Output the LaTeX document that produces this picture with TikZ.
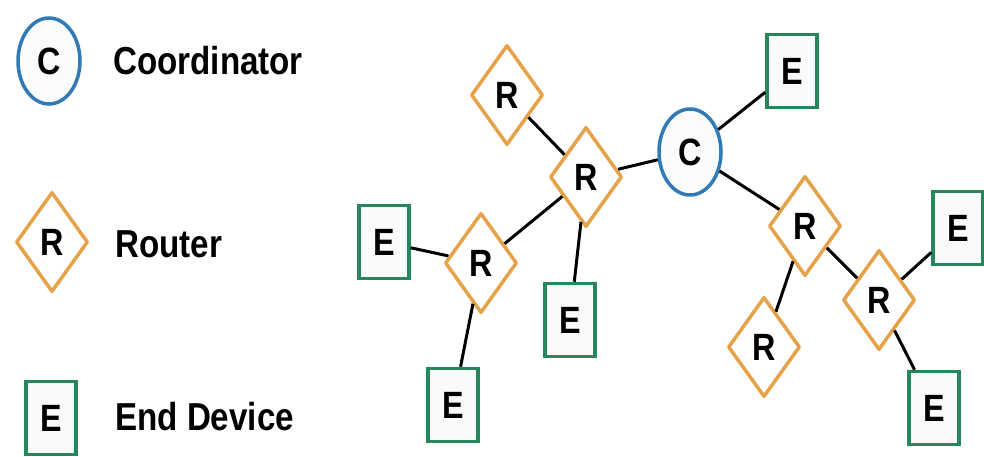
\documentclass[tikz,border=0pt]{standalone}
\usepackage{fontspec}
\setmainfont[FakeStretch=0.85]{Liberation Sans}
\usetikzlibrary{shapes.geometric,positioning}
\definecolor{coordblue}{RGB}{50,122,182}
\definecolor{routerorange}{RGB}{230,162,72}
\definecolor{devgreen}{RGB}{38,134,92}
\tikzset{
	coord/.style={ellipse,draw=coordblue,line width=3.5pt,fill=coordblue!3,
		minimum width=62pt,minimum height=86pt,inner sep=0pt,
		font=\bfseries\fontsize{38}{38}\selectfont},
	router/.style={diamond,draw=routerorange,line width=3.5pt,fill=white,line join=round,
		minimum width=72pt,minimum height=100pt,inner sep=0pt,
		font=\bfseries\fontsize{38}{38}\selectfont},
	enddev/.style={rectangle,draw=devgreen,line width=3.5pt,fill=devgreen!3,
		minimum width=50pt,minimum height=73pt,inner sep=0pt,
		font=\bfseries\fontsize{38}{38}\selectfont},
	link/.style={line width=3pt,black},
	legendtext/.style={anchor=base west,inner sep=0pt,font=\bfseries\fontsize{39}{39}\selectfont}
}
\begin{document}
\begin{tikzpicture}[x=1pt,y=-1pt]
	\useasboundingbox (0,0) rectangle (984,457);

	% Legend
	\node[coord] (legC) at (49,61) {C};
	\node[legendtext] (legCtext) at (113,75) {Coordinator};
	\node[router] (legR) at (52,242) {R};
	\node[legendtext] (legRtext) at (115,257) {Router};
	\node[enddev] (legE) at (51,418) {E};
	\node[legendtext] (legEtext) at (115,430) {End Device};

	% Coordinator
	\node[coord] (c) at (690,152) {C};

	% Routers
	\node[router] (rtop) at (507,95) {R};
	\node[router] (rmid) at (586,177) {R};
	\node[router] (rleft) at (481,263) {R};
	\node[router] (rright) at (805,226) {R};
	\node[router] (rfar) at (879,300) {R};
	\node[router] (rlow) at (764,347) {R};

	% End devices
	\node[enddev] (etop) at (792,71) {E};
	\node[enddev] (eleft) at (384,242) {E};
	\node[enddev] (emid) at (570,320) {E};
	\node[enddev] (elow) at (453,405) {E};
	\node[enddev] (eright) at (958,228) {E};
	\node[enddev] (efar) at (934,408) {E};

	% Links
	\draw[link] (rtop) -- (rmid);
	\draw[link] (rmid) -- (c);
	\draw[link] (rmid) -- (rleft);
	\draw[link] (rmid) -- (emid);
	\draw[link] (rleft) -- (eleft);
	\draw[link] (rleft) -- (elow);
	\draw[link] (c) -- (etop);
	\draw[link] (c) -- (rright);
	\draw[link] (rright) -- (rfar);
	\draw[link] (rright) -- (rlow);
	\draw[link] (rfar) -- (eright);
	\draw[link] (rfar) -- (efar);
\end{tikzpicture}
\end{document}
